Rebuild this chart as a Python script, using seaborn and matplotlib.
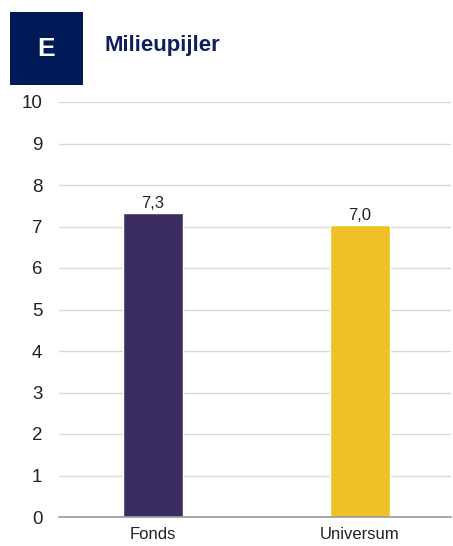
import matplotlib
matplotlib.use("Agg")
import matplotlib.pyplot as plt
import seaborn as sns
import pandas as pd
from matplotlib.patches import Rectangle

categories = ["Fonds", "Universum"]
values = [7.33, 7.04]
colors = ["#3b2d60", "#eec124"]
yticks = list(range(0, 11))
title = "Milieupijler"
badge = "E"

sns.set_theme(style="white")
plt.rcParams["font.family"] = ["Liberation Sans", "DejaVu Sans"]

df = pd.DataFrame({"cat": categories, "val": values})

fig = plt.figure(figsize=(4.53, 5.46), dpi=100)
ax = fig.add_axes([59/453, 1-517/546, (451-59)/453, (517-102)/546])

sns.barplot(data=df, x="cat", y="val", hue="cat", palette=colors, legend=False,
            width=0.29, ax=ax, saturation=1)

ax.set_ylim(0, 10)
ax.set_xlim(-0.452, 1.44)
ax.set_yticks(yticks)
ax.set_yticklabels([str(t) for t in yticks], fontsize=13.5, color="#222222")
ax.tick_params(axis="x", labelsize=12, colors="#222222", length=0, pad=7)
ax.tick_params(axis="y", length=0, pad=12)
ax.set_xlabel("")
ax.set_ylabel("")
ax.grid(axis="y", color="#d9d9d9", linewidth=1)
ax.set_axisbelow(True)
for s in ["top", "right", "left"]:
    ax.spines[s].set_visible(False)
ax.spines["bottom"].set_color("#999999")
ax.spines["bottom"].set_linewidth(1.2)

for i, v in enumerate(values):
    ax.text(i, v + 0.04, f"{v:.1f}".replace(".", ","), ha="center", va="bottom",
            fontsize=12, color="#222222")

fig.patches.append(Rectangle((10/453, 1-85/546), 73/453, 73/546,
                             transform=fig.transFigure, facecolor="#001a57",
                             edgecolor="none"))
fig.text(46.5/453, 1-48.5/546, badge, color="white", fontsize=19, fontweight="bold",
         ha="center", va="center")
fig.text(104/453, 1-46/546, title, color="#0d1f5c", fontsize=16, fontweight="bold",
         ha="left", va="center")

fig.savefig("out.png", dpi=100)
